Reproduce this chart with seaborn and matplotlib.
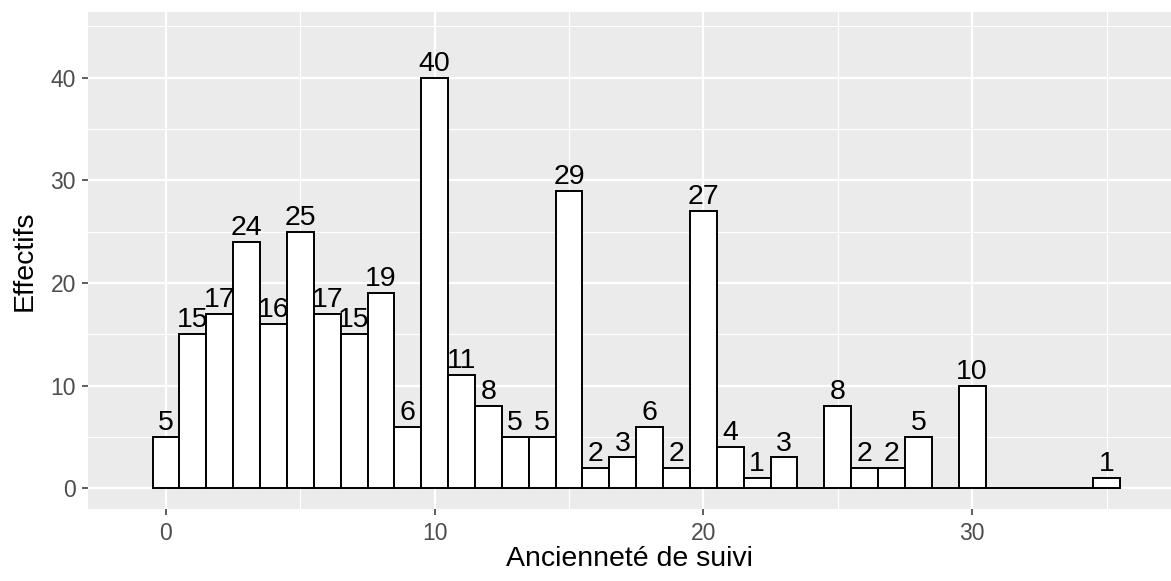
import numpy as np
import pandas as pd
import seaborn as sns
import matplotlib.pyplot as plt
from matplotlib.ticker import MultipleLocator

# Ancienneté de suivi (années) et effectifs par classe
anciennete = list(range(36))
effectifs = [5, 15, 17, 24, 16, 25, 17, 15, 19, 6,
             40, 11, 8, 5, 5, 29, 2, 3, 6, 2,
             27, 4, 1, 3, 0, 8, 2, 2, 5, 0,
             10, 0, 0, 0, 0, 1]

df = pd.DataFrame({"anciennete": anciennete, "effectifs": effectifs})

sns.set_theme(style="darkgrid")
plt.rcParams["font.family"] = ["Liberation Sans", "DejaVu Sans"]

fig = plt.figure(figsize=(11.71, 5.81), dpi=100)
ax = fig.add_axes([0.0754, 0.1234, 0.9246, 0.8554])
ax.set_facecolor("#EBEBEB")

sns.histplot(
    data=df,
    x="anciennete",
    weights="effectifs",
    discrete=True,
    color="white",
    edgecolor="black",
    linewidth=1.4,
    alpha=1,
    ax=ax,
    zorder=3,
)

# étiquettes au-dessus des barres (pas pour les classes vides)
for x, n in zip(df["anciennete"], df["effectifs"]):
    if n > 0:
        ax.annotate(str(n), (x, n), xytext=(0, 5), textcoords="offset points",
                    ha="center", va="baseline", fontsize=20.5, color="black", zorder=5)

ax.set_xlim(-2.89, 37.4)
ax.set_ylim(-2.05, 46.37)
ax.xaxis.set_major_locator(MultipleLocator(10))
ax.xaxis.set_minor_locator(MultipleLocator(5))
ax.yaxis.set_major_locator(MultipleLocator(10))
ax.yaxis.set_minor_locator(MultipleLocator(5))
ax.grid(which="major", color="white", linewidth=1.6)
ax.grid(which="minor", color="white", linewidth=0.8)
ax.set_axisbelow(True)
ax.tick_params(which="major", length=4.3, width=1.1, color="#333333",
               labelcolor="#4D4D4D", labelsize=16.5, pad=4.5, bottom=True, left=True)
ax.tick_params(which="minor", length=0)
for s in ax.spines.values():
    s.set_visible(False)

ax.set_xlabel("Ancienneté de suivi", fontsize=20.5, color="black", labelpad=1)
ax.set_ylabel("Effectifs", fontsize=20.5, color="black", labelpad=9)

fig.savefig("out.png", dpi=100)
